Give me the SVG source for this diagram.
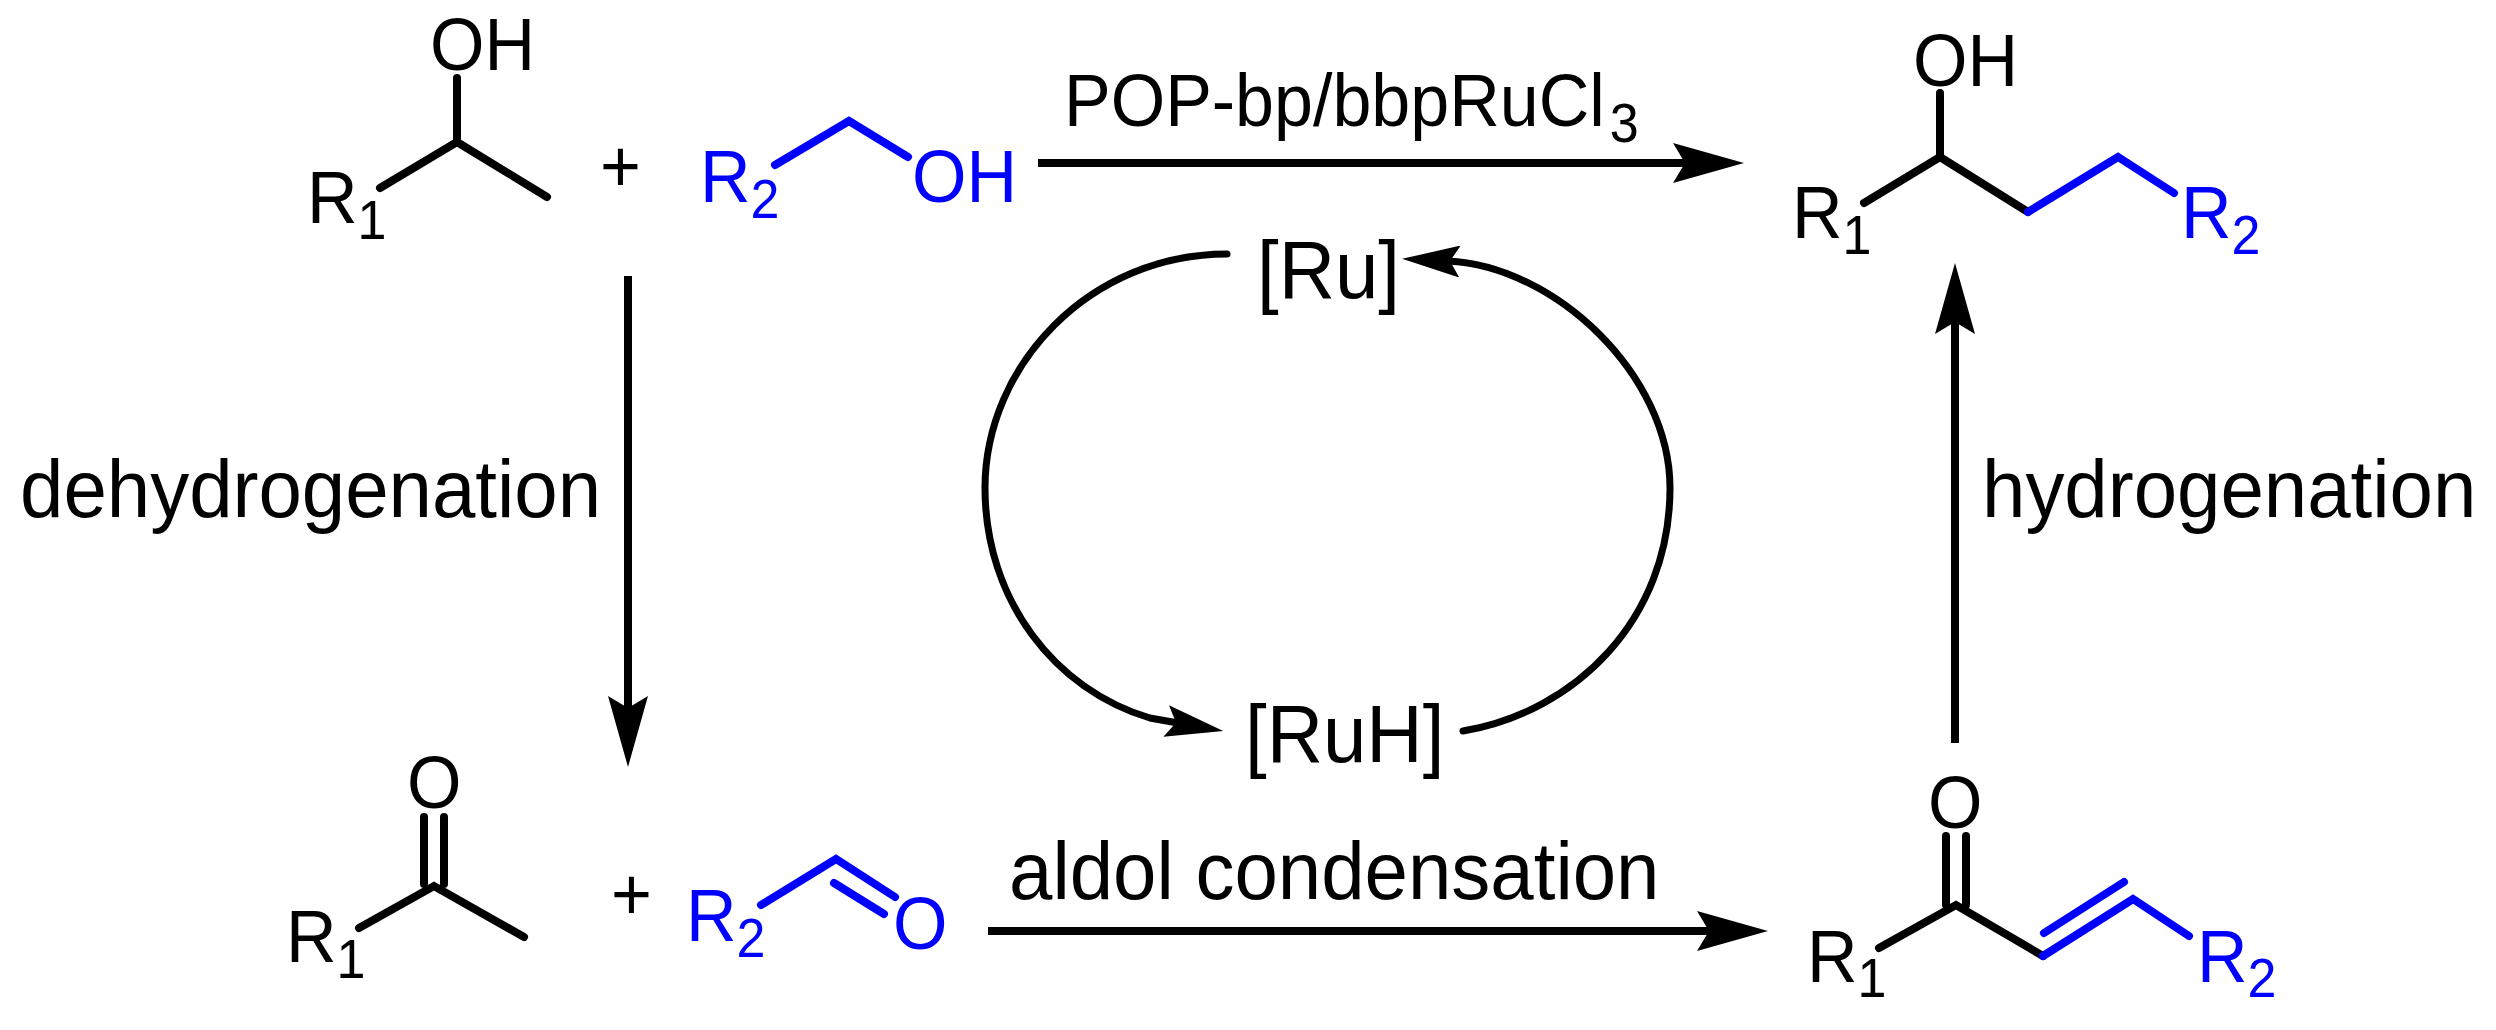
<svg xmlns="http://www.w3.org/2000/svg" width="2496" height="1030" viewBox="0 0 2496 1030">
<style>
text{font-family:"Liberation Sans",Arial,sans-serif;font-size:70px;fill:#000}
.lab{font-size:78px}
text.b,text .b,.b text{fill:#00f}
.sub{font-size:52px}
.k,.u,.c{fill:none;stroke-width:8;stroke-linecap:round;stroke-linejoin:miter}
.k{stroke:#000}.u{stroke:#00f}
.c{stroke:#000;stroke-linecap:butt}
.al{marker-end:url(#big)}
.cv{stroke-width:7;stroke-linecap:round;marker-end:url(#small)}
</style>
<defs>
<marker id="big" markerUnits="userSpaceOnUse" viewBox="0 -20 71 40" markerWidth="71" markerHeight="40" refX="14" refY="0" orient="auto"><path d="M0 -20L71 0L0 20L12 0Z" fill="#000"/></marker>
<marker id="small" markerUnits="userSpaceOnUse" viewBox="0 -16 58 32" markerWidth="58" markerHeight="32" refX="12" refY="0" orient="auto"><path d="M0 -16L58 0L0 16L10 0Z" fill="#000"/></marker>
</defs>
<rect width="2496" height="1030" fill="#fff"/>
<g id="connectors">
<path class="c al" d="M1038 163H1687"/>
<path class="c al" d="M988 931H1711"/>
<path class="c al" d="M628 276V710"/>
<path class="c al" d="M1955 743V320"/>
<path class="c cv" d="M1227 254C1090 254 985 365 985 488C985 600 1055 690 1150 718L1178 723"/>
<path class="c cv" d="M1463 731C1575 712 1670 620 1670 488C1670 375 1555 266 1448 261"/>
</g>
<g id="reactant-alcohol">
<text transform="translate(430 70) scale(1 1.05)">OH</text>
<text transform="translate(307 223) scale(1 1.05)">R<tspan class="sub" dy="15">1</tspan></text>
<path class="k" d="M457 78V142M380 188L457 142L547 197"/>
</g>
<g id="plus-top"><text transform="translate(600 192) scale(1 1.05)">+</text></g>
<g id="reactant-r2-alcohol" class="b">
<text transform="translate(700 202) scale(1 1.05)">R<tspan class="sub" dy="15">2</tspan></text>
<text transform="translate(912 202) scale(1 1.05)">OH</text>
<path class="u" d="M775 165L849 121L908 157"/>
</g>
<g id="product-alcohol">
<text transform="translate(1913 86) scale(1 1.05)">OH</text>
<text transform="translate(1792 238) scale(1 1.05)">R<tspan class="sub" dy="15">1</tspan></text>
<text class="b" transform="translate(2181 238) scale(1 1.05)">R<tspan class="sub" dy="15">2</tspan></text>
<path class="k" d="M1940 93V157M1864 203L1940 157L2028 212"/>
<path class="u" d="M2028 212L2118 157L2174 193"/>
</g>
<g id="ketone">
<text transform="translate(407 808) scale(1 1.05)">O</text>
<text transform="translate(286 962) scale(1 1.05)">R<tspan class="sub" dy="15">1</tspan></text>
<path class="k" d="M424 817V884M444 817V884M359 928L434 886L524 937"/>
</g>
<g id="plus-bottom"><text transform="translate(611 920) scale(1 1.05)">+</text></g>
<g id="aldehyde" class="b">
<text transform="translate(686 941) scale(1 1.05)">R<tspan class="sub" dy="15">2</tspan></text>
<text transform="translate(893 949) scale(1 1.05)">O</text>
<path class="u" d="M761 905L836 859L895 897M834 883L884 914"/>
</g>
<g id="enone">
<text transform="translate(1928 828) scale(1 1.05)">O</text>
<text transform="translate(1807 982) scale(1 1.05)">R<tspan class="sub" dy="14">1</tspan></text>
<text class="b" transform="translate(2197 982) scale(1 1.05)">R<tspan class="sub" dy="14">2</tspan></text>
<path class="k" d="M1946 836V905M1966 836V905M1879 948L1956 905L2043 956"/>
<path class="u" d="M2043 956L2133 899L2189 936M2044 933L2124 882"/>
</g>
<g id="ru"><text class="lab" transform="translate(1257 298) scale(1 1.05)">[Ru]</text></g>
<g id="ruh"><text class="lab" transform="translate(1245 762) scale(1 1.05)">[RuH]</text></g>
<g id="label-catalyst"><text transform="translate(1064 126) scale(1 1.05)">POP-bp/bbpRuCl<tspan class="sub" dx="5" dy="15">3</tspan></text></g>
<g id="label-dehydrogenation"><text class="lab" transform="translate(20 517) scale(1 1.05)">dehydrogenation</text></g>
<g id="label-hydrogenation"><text class="lab" transform="translate(1982 517) scale(1 1.05)">hydrogenation</text></g>
<g id="label-aldol"><text class="lab" transform="translate(1009 899) scale(1 1.05)">aldol condensation</text></g>
</svg>
